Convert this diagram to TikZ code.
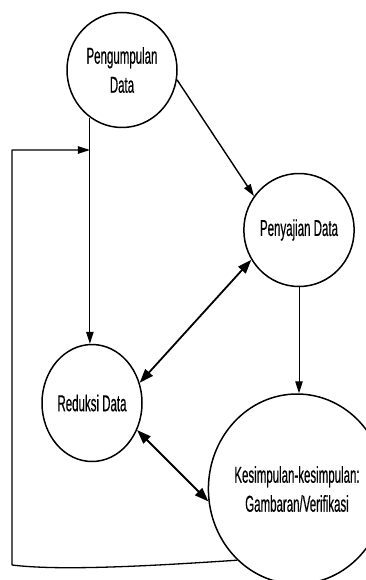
\documentclass[tikz,border=0pt]{standalone}
\usepackage{fontspec}
\setmainfont{Liberation Sans}[FakeStretch=0.5, FakeBold=0.4]
\usetikzlibrary{shapes.geometric,arrows.meta}

\begin{document}
\begin{tikzpicture}[x=1pt, y=-1pt, line join=round, >={Triangle[length=12pt,width=7.5pt]},
	bulat/.style={ellipse, draw, line width=1.5pt, inner sep=0pt, align=center, font=\fontsize{23}{29}\selectfont},
	panah/.style={->, line width=1pt},
	panahdua/.style={{Triangle[length=14pt,width=10pt]}-{Triangle[length=14pt,width=10pt]}, line width=1.8pt}]
	\useasboundingbox (0,0) rectangle (365,580);
	% lingkaran
	\node[bulat, minimum width=110pt, minimum height=115pt] (kumpul) at (122,70) {Pengumpulan\\Data};
	\node[bulat, minimum width=92pt, minimum height=113pt] (saji) at (299,230) {Penyajian Data};
	\node[bulat, minimum width=100pt, minimum height=117pt] (reduksi) at (92,403) {Reduksi Data};
	\node[bulat, minimum width=160pt, minimum height=190pt] (simpul) at (297,489) {Kesimpulan-kesimpulan:\\Gambaran/Verifikasi};
	\coordinate (sudutbawah) at (12,565);
	\coordinate (sudutatas) at (12,150);
	% panah
	\draw[panah, line width=1.4pt] (kumpul.-10) -- (saji.143);
	\draw[panah] (kumpul.-124) -- (kumpul.-124 |- reduksi.north);
	\draw[panah] (saji.south) -- (saji.south |- simpul.north);
	\draw[panahdua] (reduksi.23) -- (saji.212);
	\draw[panahdua] (reduksi.-31) -- (simpul.188);
	\draw[panah, line width=1.3pt] (simpul.-130) .. controls (150,566) and (60,571) .. (sudutbawah)
		-- (sudutatas) -- (sudutatas -| kumpul.-124);
\end{tikzpicture}
\end{document}
